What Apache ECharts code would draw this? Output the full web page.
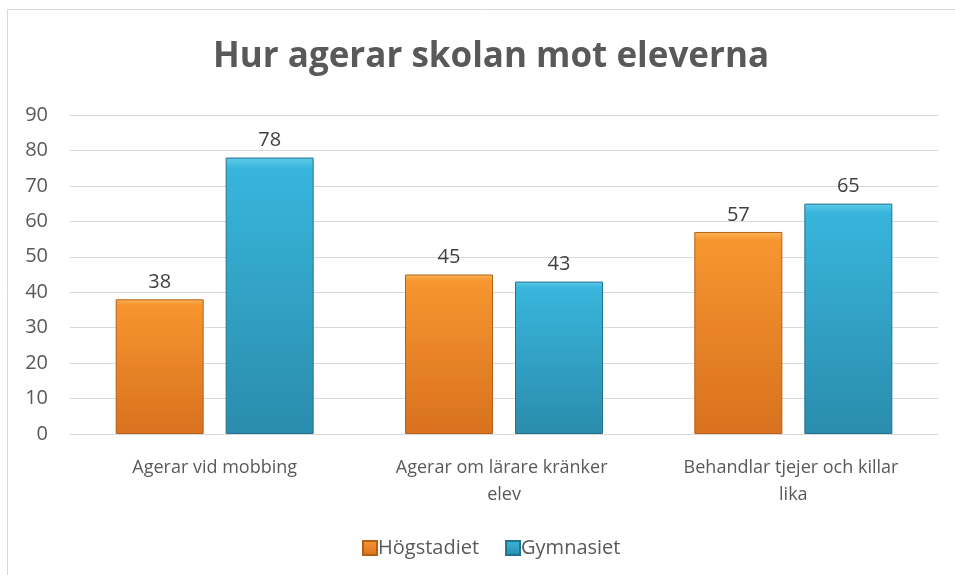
<!DOCTYPE html>
<html>
<head>
<meta charset="utf-8">
<script src="https://cdn.jsdelivr.net/npm/echarts@6/dist/echarts.min.js"></script>
<style>
  html, body { margin: 0; padding: 0; background: #fff; }
  #chart { width: 955px; height: 575px; }
</style>
</head>
<body>
<div id="chart"></div>
<script>
  // kategorier och värden
  var categories = ['Agerar vid mobbing', 'Agerar om lärare kränker elev', 'Behandlar tjejer och killar lika'];
  var hogstadiet = [38, 45, 57];
  var gymnasiet = [78, 43, 65];
  var seriesNames = ['Högstadiet', 'Gymnasiet'];

  var textColor = '#595959';

  function bevel(top, mid, bottom) {
    return new echarts.graphic.LinearGradient(0, 0, 0, 1, [
      { offset: 0, color: top },
      { offset: 0.04, color: mid },
      { offset: 0.96, color: bottom },
      { offset: 1, color: bottom }
    ]);
  }

  var chart = echarts.init(document.getElementById('chart'));
  chart.setOption({
    animation: false,
    title: {
      text: 'Hur agerar skolan mot eleverna',
      left: 208,
      top: 35,
      textStyle: {
        fontFamily: 'Open Sans',
        fontWeight: 'bold',
        fontSize: 35,
        color: textColor
      }
    },
    graphic: [{
      type: 'rect',
      shape: { x: 7.5, y: 9.5, width: 1000, height: 700 },
      style: { fill: 'none', stroke: '#d9d9d9', lineWidth: 1 },
      silent: true
    }],
    legend: {
      bottom: 12,
      left: 357,
      itemWidth: 14,
      itemHeight: 14,
      itemGap: 26,
      icon: 'rect',
      textStyle: { fontFamily: 'Open Sans', fontSize: 20, color: textColor, padding: [0, 0, 0, -4] },
      data: seriesNames
    },
    grid: {
      left: 70,
      right: 17,
      top: 115,
      bottom: 141
    },
    xAxis: {
      type: 'category',
      data: categories,
      axisLine: { lineStyle: { color: '#d9d9d9', width: 1 } },
      axisTick: { show: false },
      axisLabel: {
        fontFamily: 'Open Sans',
        fontSize: 18,
        color: textColor,
        margin: 20,
        lineHeight: 27,
        width: 235,
        overflow: 'break',
        interval: 0
      }
    },
    yAxis: {
      type: 'value',
      min: 0,
      max: 90,
      interval: 10,
      axisLine: { show: false },
      axisTick: { show: false },
      splitLine: { lineStyle: { color: '#d9d9d9', width: 1 } },
      axisLabel: {
        fontFamily: 'Open Sans',
        fontSize: 20,
        color: textColor,
        margin: 22
      }
    },
    series: [{
      name: seriesNames[0],
      type: 'bar',
      data: hogstadiet,
      barWidth: 88,
      barGap: '25%',
      itemStyle: {
        color: bevel('#fbb55a', '#f7952f', '#d9731f'),
        borderColor: '#b85f17',
        borderWidth: 1
      },
      label: {
        show: true,
        position: 'top',
        distance: 7,
        fontFamily: 'Open Sans',
        fontSize: 20,
        color: '#404040'
      }
    }, {
      name: seriesNames[1],
      type: 'bar',
      data: gymnasiet,
      barWidth: 88,
      barGap: '25%',
      itemStyle: {
        color: bevel('#5fcbe8', '#38b5dc', '#2b8eae'),
        borderColor: '#23738e',
        borderWidth: 1
      },
      label: {
        show: true,
        position: 'top',
        distance: 7,
        fontFamily: 'Open Sans',
        fontSize: 20,
        color: '#404040'
      }
    }]
  });
</script>
</body>
</html>
